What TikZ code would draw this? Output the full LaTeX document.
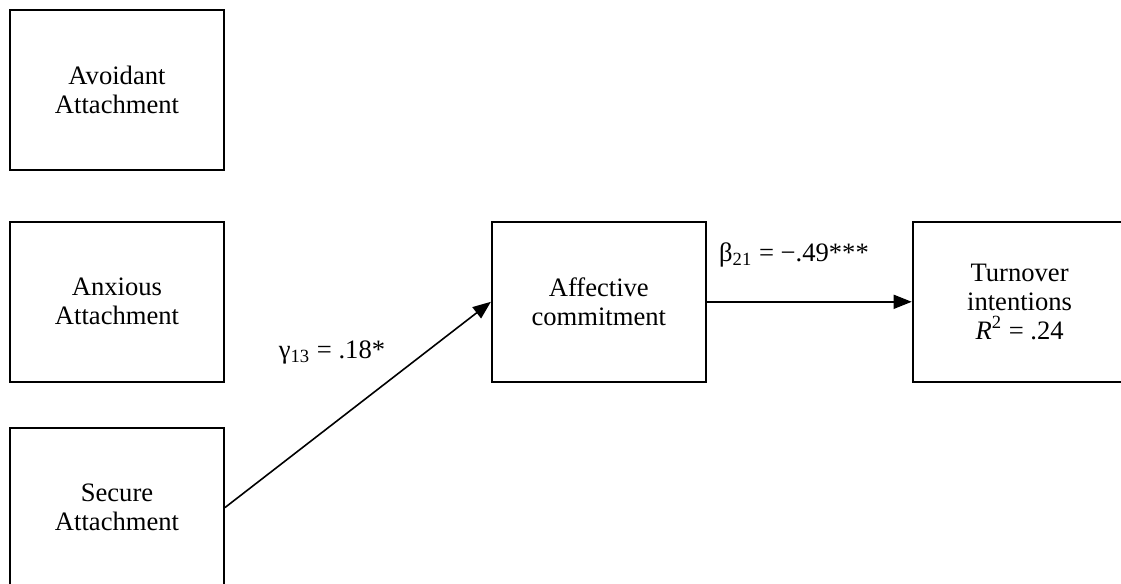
\documentclass[tikz,border=0pt]{standalone}
\usepackage{fontspec}
\setmainfont{Liberation Serif}
\usetikzlibrary{positioning,arrows.meta}

\tikzset{
	varbox/.style={draw, line width=0.9pt, minimum width=107pt, minimum height=80pt, align=center, inner sep=0pt, font=\fontsize{13.3}{14.5}\selectfont},
	coef/.style={font=\fontsize{13.3}{14.5}\selectfont, inner sep=0pt},
	path/.style={line width=0.8pt, -{Triangle[length=9pt,width=7pt]}}
}

\begin{document}
\begin{tikzpicture}[x=0.5pt,y=-0.5pt]
			\useasboundingbox (0,0) rectangle (1121,584);
			\clip (0,0) rectangle (1121,584);
			\node[varbox] (avoid) at (117,90) {Avoidant\\Attachment};
			\node[varbox, below=25pt of avoid] (anx) {Anxious\\Attachment};
			\node[varbox, below=22pt of anx] (secure) {Secure\\Attachment};
			\node[varbox, right=133pt of anx] (affect) {Affective\\commitment};
			\node[varbox, right=102.5pt of affect] (turnover) {Turnover\\intentions\\\textit{R}\textsuperscript{2} = .24};
			%
			\node[coef] (gamma) at (332,352) {γ\textsubscript{13} = .18*};
			\node[coef] (beta) at (794,255) {β\textsubscript{21} = −.49***};
			%
			\draw[path] (secure.east) -- (affect.west);
			\draw[path] (affect.east) -- (turnover.west);
\end{tikzpicture}
\end{document}
